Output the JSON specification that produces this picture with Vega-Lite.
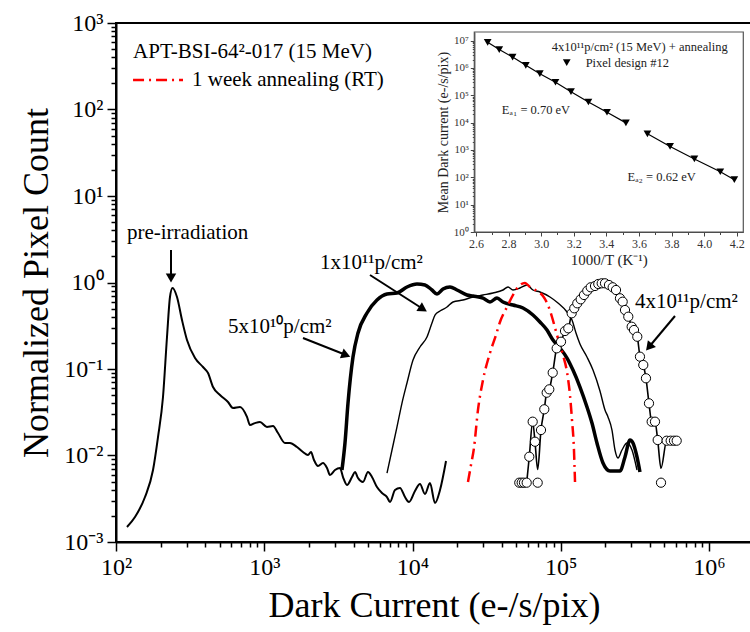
{
  "$schema": "https://vega.github.io/schema/vega-lite/v6.json",
  "autosize": {"type": "none"},
  "padding": {"left": 116, "top": 23, "right": 0, "bottom": 90},
  "width": 636,
  "height": 519,
  "background": "white",
  "config": {
    "font": "Liberation Serif",
    "view": {"stroke": "black", "strokeWidth": 2}
  },
  "datasets": {
    "pre": [
      {"x":118.6,"y":0.001491},{"x":134.3,"y":0.001945},{"x":156.9,"y":0.003312},{"x":177.7,"y":0.006797},{"x":192.0,"y":0.01635},{"x":207.5,"y":0.04746},{"x":220.8,"y":0.2343},{"x":231.3,"y":0.6797},{"x":240.5,"y":0.8637},{"x":257.9,"y":0.6797},{"x":278.7,"y":0.3684},{"x":301.2,"y":0.2163},{"x":341.2,"y":0.134},{"x":386.3,"y":0.1054},{"x":417.5,"y":0.0899},{"x":451.2,"y":0.0619},{"x":502.9,"y":0.05},{"x":569.5,"y":0.0415},{"x":615.5,"y":0.0354},{"x":686.2,"y":0.0364},{"x":764.9,"y":0.0279},{"x":801.3,"y":0.0225},{"x":866.2,"y":0.0237},{"x":936.1,"y":0.0244},{"x":1043,"y":0.0214},{"x":1146,"y":0.0219},{"x":1238,"y":0.0182},{"x":1380,"y":0.01394},{"x":1491,"y":0.01394},{"x":1663,"y":0.01253},{"x":1825,"y":0.01097},{"x":1972,"y":0.01013},{"x":2067,"y":0.01097},{"x":2165,"y":0.00887},{"x":2304,"y":0.00756},{"x":2490,"y":0.00819},{"x":2650,"y":0.00717},{"x":2776,"y":0.00595},{"x":3000,"y":0.0068},{"x":3243,"y":0.00717},{"x":3398,"y":0.00564},{"x":3614,"y":0.00456},{"x":3907,"y":0.00564},{"x":4094,"y":0.00644},{"x":4289,"y":0.00549},{"x":4634,"y":0.00494},{"x":5009,"y":0.00644},{"x":5329,"y":0.00564},{"x":5759,"y":0.00432},{"x":6227,"y":0.00368},{"x":6730,"y":0.00331},{"x":7048,"y":0.0029},{"x":7620,"y":0.00399},{"x":8234,"y":0.00421},{"x":8899,"y":0.00331},{"x":9469,"y":0.0029},{"x":10390,"y":0.00389},{"x":11230,"y":0.00468},{"x":12140,"y":0.00359},{"x":13120,"y":0.00481},{"x":14180,"y":0.00282},{"x":15330,"y":0.00399},{"x":16830,"y":0.00864}
    ],
    "f5e10": [
      {"x":3344,"y":0.0068},{"x":3504,"y":0.01394},{"x":3672,"y":0.0404},{"x":3968,"y":0.1376},{"x":4289,"y":0.2607},{"x":4932,"y":0.444},{"x":5759,"y":0.6275},{"x":6730,"y":0.7362},{"x":7860,"y":0.7559},{"x":9179,"y":0.887},{"x":10720,"y":0.9607},{"x":12140,"y":0.9354},{"x":13530,"y":0.819},{"x":14630,"y":0.7362},{"x":16060,"y":0.8412},{"x":17900,"y":0.887},{"x":19960,"y":0.819},{"x":23310,"y":0.7168},{"x":25590,"y":0.6979},{"x":29890,"y":0.6616},{"x":33320,"y":0.595},{"x":37150,"y":0.6616},{"x":40770,"y":0.595},{"x":47630,"y":0.5492},{"x":55620,"y":0.5071},{"x":64960,"y":0.4209},{"x":72410,"y":0.3494},{"x":80750,"y":0.2823},{"x":88630,"y":0.2163},{"x":98810,"y":0.1748},{"x":110200,"y":0.134},{"x":120900,"y":0.0973},{"x":134800,"y":0.0619},{"x":150300,"y":0.0364},{"x":162400,"y":0.0237},{"x":175500,"y":0.01394},{"x":192700,"y":0.00819},{"x":214900,"y":0.00662},{"x":250900,"y":0.00662},{"x":271200,"y":0.00961},{"x":293100,"y":0.0151},{"x":307100,"y":0.01394},{"x":326800,"y":0.00961},{"x":342200,"y":0.00644}
    ],
    "f1e11": [
      {"x":6730,"y":0.00627},{"x":7273,"y":0.01158},{"x":7860,"y":0.0214},{"x":8494,"y":0.0404},{"x":9179,"y":0.0689},{"x":10080,"y":0.127},{"x":11230,"y":0.1796},{"x":12520,"y":0.2343},{"x":13530,"y":0.3401},{"x":14180,"y":0.4209},{"x":15330,"y":0.4682},{"x":17090,"y":0.5208},{"x":18760,"y":0.595},{"x":21900,"y":0.6275},{"x":25590,"y":0.6797},{"x":29890,"y":0.7168},{"x":34910,"y":0.7559},{"x":40770,"y":0.819},{"x":44060,"y":0.887},{"x":47630,"y":0.819},{"x":53090,"y":0.8637},{"x":59180,"y":0.9354},{"x":64960,"y":0.819},{"x":72410,"y":0.7764},{"x":84580,"y":0.6797},{"x":95790,"y":0.5793},{"x":110200,"y":0.456},{"x":119100,"y":0.3684},{"x":126700,"y":0.2607},{"x":134800,"y":0.1945},{"x":150300,"y":0.1376},{"x":165000,"y":0.0973},{"x":183900,"y":0.0557},{"x":198800,"y":0.0336},{"x":208300,"y":0.0279},{"x":221600,"y":0.0197},{"x":232200,"y":0.01158},{"x":243300,"y":0.00935},{"x":258800,"y":0.01158},{"x":279800,"y":0.01394},{"x":302300,"y":0.01158},{"x":326800,"y":0.0068}
    ],
    "anneal": [
      {"x":23670,"y":0.00494},{"x":24800,"y":0.00776},{"x":25980,"y":0.01221},{"x":27650,"y":0.0336},{"x":29890,"y":0.0746},{"x":33320,"y":0.1531},{"x":36560,"y":0.2472},{"x":38920,"y":0.3494},{"x":43380,"y":0.5208},{"x":47630,"y":0.7168},{"x":51460,"y":0.887},{"x":57390,"y":0.9865},{"x":62000,"y":0.887},{"x":69130,"y":0.7974},{"x":75860,"y":0.6979},{"x":82000,"y":0.5492},{"x":87290,"y":0.3992},{"x":94330,"y":0.2472},{"x":103500,"y":0.1451},{"x":110200,"y":0.0923},{"x":115400,"y":0.05},{"x":119100,"y":0.0257},{"x":122800,"y":0.01158},{"x":124800,"y":0.00494}
    ],
    "f4e11": [
      {"x":52520,"y":0.00485},{"x":54510,"y":0.00485},{"x":56490,"y":0.00485},{"x":58910,"y":0.00485},{"x":61340,"y":0.00968},{"x":64660,"y":0.0246},{"x":67020,"y":0.01443},{"x":69890,"y":0.00485},{"x":73570,"y":0.0197},{"x":77440,"y":0.0342},{"x":80380,"y":0.0532},{"x":83690,"y":0.0582},{"x":88250,"y":0.0906},{"x":93880,"y":0.1734},{"x":100400,"y":0.2067},{"x":106800,"y":0.2749},{"x":112400,"y":0.2954},{"x":118500,"y":0.4404},{"x":123400,"y":0.5031},{"x":129300,"y":0.5745},{"x":136300,"y":0.6392},{"x":143500,"y":0.7168},{"x":151000,"y":0.8036},{"x":159200,"y":0.88},{"x":170200,"y":0.911},{"x":179100,"y":0.9607},{"x":188900,"y":0.9788},{"x":198800,"y":0.9788},{"x":211500,"y":0.9354},{"x":224000,"y":0.88},{"x":235900,"y":0.819},{"x":250900,"y":0.657},{"x":261600,"y":0.5998},{"x":271200,"y":0.4808},{"x":285500,"y":0.4024},{"x":300900,"y":0.3082},{"x":311900,"y":0.2823},{"x":328300,"y":0.2361},{"x":342200,"y":0.1388},{"x":360300,"y":0.1112},{"x":375700,"y":0.0781},{"x":393700,"y":0.0401},{"x":410500,"y":0.0246},{"x":432200,"y":0.0246},{"x":450700,"y":0.0151},{"x":474500,"y":0.00485},{"x":518200,"y":0.01483},{"x":551400,"y":0.01483},{"x":580400,"y":0.01483},{"x":605400,"y":0.01483}
    ],
    "f4e11fit": [
      {"x":58910,"y":0.00485},{"x":61340,"y":0.00968},{"x":64660,"y":0.0246},{"x":67020,"y":0.01443},{"x":69890,"y":0.0069},{"x":73570,"y":0.0197},{"x":77440,"y":0.0342},{"x":80380,"y":0.0532},{"x":83690,"y":0.0582},{"x":88250,"y":0.0906},{"x":93880,"y":0.1734},{"x":100400,"y":0.2067},{"x":106800,"y":0.2749},{"x":112400,"y":0.2954},{"x":118500,"y":0.4404},{"x":123400,"y":0.5031},{"x":129300,"y":0.5745},{"x":136300,"y":0.6392},{"x":143500,"y":0.7168},{"x":151000,"y":0.8036},{"x":159200,"y":0.88},{"x":170200,"y":0.911},{"x":179100,"y":0.9607},{"x":188900,"y":0.9788},{"x":198800,"y":0.9788},{"x":211500,"y":0.9354},{"x":224000,"y":0.88},{"x":235900,"y":0.819},{"x":250900,"y":0.657},{"x":261600,"y":0.5998},{"x":271200,"y":0.4808},{"x":285500,"y":0.4024},{"x":300900,"y":0.3082},{"x":311900,"y":0.2823},{"x":328300,"y":0.2361},{"x":342200,"y":0.1388},{"x":360300,"y":0.1112},{"x":375700,"y":0.0781},{"x":393700,"y":0.0401},{"x":410500,"y":0.0246},{"x":432200,"y":0.0246},{"x":450700,"y":0.0151},{"x":474500,"y":0.00711},{"x":518200,"y":0.01483},{"x":551400,"y":0.01483},{"x":580400,"y":0.01483},{"x":605400,"y":0.01483}
    ],
    "arrows": [
      {"id":"pre","x":235,"y":2.375,"x2":235,"y2":1.221},
      {"id":"f5e10","x":1825,"y":0.2282,"x2":3560,"y2":0.1451},
      {"id":"f1e11","x":5168,"y":1.221,"x2":11770,"y2":0.4939},
      {"id":"f4e11","x":589500,"y":0.41,"x2":393700,"y2":0.1796}
    ],
    "heads": [
      {"id":"pre","x":235,"y":1.127},
      {"id":"f5e10","x":3560,"y":0.1451},
      {"id":"f1e11","x":11770,"y":0.4939},
      {"id":"f4e11","x":393700,"y":0.1796}
    ],
    "legendLine": [
      {"x":130.3,"x2":283.1,"y":219.3}
    ],
    "notes": [
      {"x":130.3,"y":462,"t":"APT-BSI-64²-017 (15 MeV)"},
      {"x":325.5,"y":219.3,"t":"1 week annealing (RT)"},
      {"x":118.6,"y":3.734,"t":"pre-irradiation"},
      {"x":569.5,"y":0.3058,"t":"5x10¹⁰p/cm²"},
      {"x":2377,"y":1.68,"t":"1x10¹¹p/cm²"},
      {"x":316700,"y":0.595,"t":"4x10¹¹p/cm²"}
    ],
    "insetFrame": [
      {"x":2.59,"x2":4.24,"y":1,"y2":20700000}
    ],
    "arrhenius": [
      {"x":2.672,"y":8700000,"g":1},{"x":2.743,"y":4700000,"g":1},{"x":2.825,"y":2500000,"g":1},{"x":2.906,"y":1250000,"g":1},{"x":2.992,"y":620000,"g":1},{"x":3.088,"y":300000,"g":1},{"x":3.183,"y":136000,"g":1},{"x":3.29,"y":57000,"g":1},{"x":3.404,"y":24000,"g":1},{"x":3.52,"y":9800,"g":1},
      {"x":3.652,"y":3900,"g":2},{"x":3.791,"y":1350,"g":2},{"x":3.94,"y":470,"g":2},{"x":4.099,"y":160,"g":2},{"x":4.185,"y":82,"g":2}
    ],
    "insetKey": [
      {"x":3.157,"y":1560000}
    ],
    "insetNotes": [
      {"x":3.065,"y":6030000,"t":"4x10¹¹p/cm² (15 MeV) + annealing"},
      {"x":3.273,"y":1560000,"t":"Pixel design #12"},
      {"x":2.759,"y":29700,"t":"Eₐ₁ = 0.70 eV"},
      {"x":3.53,"y":104,"t":"Eₐ₂ = 0.62 eV"}
    ]
  },
  "layer": [
    {
      "encoding": {
        "x": {
          "field": "x", "type": "quantitative",
          "scale": {"type": "log", "domain": [100, 1950000], "nice": false},
          "axis": {
            "title": "Dark Current (e-/s/pix)",
            "titleFontSize": 36, "titleFontWeight": "normal", "titleColor": "black", "titleFont": "Liberation Serif", "titlePadding": 9,
            "values": [100,200,300,400,500,600,700,800,900,1000,2000,3000,4000,5000,6000,7000,8000,9000,10000,20000,30000,40000,50000,60000,70000,80000,90000,100000,200000,300000,400000,500000,600000,700000,800000,900000,1000000],
            "labelExpr": "datum.value==100?'10²':datum.value==1000?'10³':datum.value==10000?'10⁴':datum.value==100000?'10⁵':datum.value==1000000?'10⁶':''",
            "labelFontSize": 24, "labelColor": "black", "labelFont": "Liberation Serif", "labelPadding": 4,
            "labelOverlap": false, "labelFlush": false,
            "tickColor": "black", "tickWidth": 1.5,
            "tickSize": {"condition": {"test": "datum.value==100||datum.value==1000||datum.value==10000||datum.value==100000||datum.value==1000000", "value": 9}, "value": 5},
            "domainColor": "black", "domainWidth": 2, "grid": false
          }
        },
        "y": {
          "field": "y", "type": "quantitative",
          "scale": {"type": "log", "domain": [0.001, 1000], "nice": false},
          "axis": {
            "title": "Normalized Pixel Count",
            "titleFontSize": 36, "titleFontWeight": "normal", "titleColor": "black", "titleFont": "Liberation Serif", "titlePadding": 8,
            "values": [0.001,0.002,0.003,0.004,0.005,0.006,0.007,0.008,0.009,0.01,0.02,0.03,0.04,0.05,0.06,0.07,0.08,0.09,0.1,0.2,0.3,0.4,0.5,0.6,0.7,0.8,0.9,1,2,3,4,5,6,7,8,9,10,20,30,40,50,60,70,80,90,100,200,300,400,500,600,700,800,900,1000],
            "labelExpr": "datum.value==0.001?'10⁻³':datum.value==0.01?'10⁻²':datum.value==0.1?'10⁻¹':datum.value==1?'10⁰':datum.value==10?'10¹':datum.value==100?'10²':datum.value==1000?'10³':''",
            "labelFontSize": 24, "labelColor": "black", "labelFont": "Liberation Serif", "labelPadding": 4,
            "labelOverlap": false, "labelFlush": false,
            "tickColor": "black", "tickWidth": 1.5,
            "tickSize": {"condition": {"test": "datum.value==0.001||datum.value==0.01||datum.value==0.1||datum.value==1||datum.value==10||datum.value==100||datum.value==1000", "value": 9}, "value": 5},
            "domainColor": "black", "domainWidth": 2, "grid": false
          }
        }
      },
      "layer": [
        {"data": {"name": "pre"}, "mark": {"type": "line", "color": "black", "strokeWidth": 2, "interpolate": "monotone"}},
        {"data": {"name": "f5e10"}, "mark": {"type": "line", "color": "black", "strokeWidth": 3.5, "interpolate": "monotone"}},
        {"data": {"name": "f1e11"}, "mark": {"type": "line", "color": "black", "strokeWidth": 1.4, "interpolate": "monotone"}},
        {"data": {"name": "anneal"}, "mark": {"type": "line", "color": "#ff0000", "strokeWidth": 2.5, "strokeDash": [11, 5, 2, 5], "interpolate": "monotone"}},
        {"data": {"name": "f4e11fit"}, "mark": {"type": "line", "color": "black", "strokeWidth": 1.6, "interpolate": "monotone"}},
        {"data": {"name": "f4e11"}, "mark": {"type": "point", "shape": "circle", "filled": true, "fill": "white", "stroke": "black", "strokeWidth": 1, "size": 85, "opacity": 1}},
        {"data": {"name": "arrows"}, "mark": {"type": "rule", "color": "black", "strokeWidth": 2},
          "encoding": {"x2": {"field": "x2"}, "y2": {"field": "y2"}}},
        {"data": {"name": "heads"}, "transform": [{"filter": "datum.id=='pre'"}],
          "mark": {"type": "point", "shape": "triangle-down", "filled": true, "color": "black", "size": 110, "opacity": 1}},
        {"data": {"name": "heads"}, "transform": [{"filter": "datum.id=='f5e10'"}],
          "mark": {"type": "point", "shape": "triangle-right", "angle": 21, "filled": true, "color": "black", "size": 110, "opacity": 1}},
        {"data": {"name": "heads"}, "transform": [{"filter": "datum.id=='f1e11'"}],
          "mark": {"type": "point", "shape": "triangle-right", "angle": 32, "filled": true, "color": "black", "size": 110, "opacity": 1}},
        {"data": {"name": "heads"}, "transform": [{"filter": "datum.id=='f4e11'"}],
          "mark": {"type": "point", "shape": "triangle-right", "angle": 130, "filled": true, "color": "black", "size": 110, "opacity": 1}},
        {"data": {"name": "legendLine"}, "mark": {"type": "rule", "color": "#ff0000", "strokeWidth": 2.5, "strokeDash": [11, 5, 2, 5]},
          "encoding": {"x2": {"field": "x2"}}},
        {"data": {"name": "notes"}, "mark": {"type": "text", "align": "left", "baseline": "middle", "fontSize": 21, "font": "Liberation Serif", "color": "black"},
          "encoding": {"text": {"field": "t"}}}
      ]
    },
    {
      "encoding": {
        "x": {
          "field": "x", "type": "quantitative",
          "scale": {"type": "linear", "domain": [2.59, 4.24], "range": [358.3, 627.3], "nice": false, "zero": false},
          "axis": {
            "orient": "bottom", "offset": -310,
            "title": "1000/T  (K⁻¹)", "titleFontSize": 15, "titleFontWeight": "normal", "titleColor": "#222", "titleFont": "Liberation Serif", "titlePadding": 3,
            "values": [2.6,2.7,2.8,2.9,3.0,3.1,3.2,3.3,3.4,3.5,3.6,3.7,3.8,3.9,4.0,4.1,4.2],
            "labelExpr": "round(datum.value*10)%2==0 ? format(datum.value,'.1f') : ''",
            "labelFontSize": 12, "labelColor": "#333", "labelFont": "Liberation Serif", "labelPadding": 2,
            "labelOverlap": false, "labelFlush": false,
            "tickColor": "#444", "tickWidth": 1,
            "tickSize": {"condition": {"test": "round(datum.value*10)%2==0", "value": 4}, "value": 2.5},
            "domainColor": "#444", "domainWidth": 1.2, "grid": false
          }
        },
        "y": {
          "field": "y", "type": "quantitative",
          "scale": {"type": "log", "domain": [1, 20700000], "range": [209, 9], "nice": false},
          "axis": {
            "orient": "left", "offset": -358.3,
            "title": "Mean Dark current (e-/s/pix)", "titleFontSize": 14, "titleFontWeight": "normal", "titleColor": "#222", "titleFont": "Liberation Serif", "titlePadding": 3,
            "values": [1,2,3,4,5,6,7,8,9,10,20,30,40,50,60,70,80,90,100,200,300,400,500,600,700,800,900,1000,2000,3000,4000,5000,6000,7000,8000,9000,10000,20000,30000,40000,50000,60000,70000,80000,90000,100000,200000,300000,400000,500000,600000,700000,800000,900000,1000000,2000000,3000000,4000000,5000000,6000000,7000000,8000000,9000000,10000000],
            "labelExpr": "datum.value==1?'10⁰':datum.value==10?'10¹':datum.value==100?'10²':datum.value==1000?'10³':datum.value==10000?'10⁴':datum.value==100000?'10⁵':datum.value==1000000?'10⁶':datum.value==10000000?'10⁷':''",
            "labelFontSize": 11, "labelColor": "#333", "labelFont": "Liberation Serif", "labelPadding": 2,
            "labelOverlap": false, "labelFlush": false,
            "tickColor": "#444", "tickWidth": 1,
            "tickSize": {"condition": {"test": "datum.value==1||datum.value==10||datum.value==100||datum.value==1000||datum.value==10000||datum.value==100000||datum.value==1000000||datum.value==10000000", "value": 4}, "value": 2},
            "domainColor": "#444", "domainWidth": 1.2, "grid": false
          }
        }
      },
      "layer": [
        {"data": {"name": "insetFrame"}, "mark": {"type": "rect", "filled": false, "stroke": "#555", "strokeWidth": 1.2},
          "encoding": {"x2": {"field": "x2"}, "y2": {"field": "y2"}}},
        {"data": {"name": "arrhenius"}, "mark": {"type": "line", "color": "black", "strokeWidth": 1.2},
          "encoding": {"detail": {"field": "g", "type": "nominal"}}},
        {"data": {"name": "arrhenius"}, "mark": {"type": "point", "shape": "triangle-down", "filled": true, "color": "black", "size": 60, "opacity": 1}},
        {"data": {"name": "insetKey"}, "mark": {"type": "point", "shape": "triangle-down", "filled": true, "color": "black", "size": 60, "opacity": 1}},
        {"data": {"name": "insetNotes"}, "mark": {"type": "text", "align": "left", "baseline": "middle", "fontSize": 12.5, "font": "Liberation Serif", "color": "#222"},
          "encoding": {"text": {"field": "t"}}}
      ]
    }
  ],
  "resolve": {"scale": {"x": "independent", "y": "independent"}, "axis": {"x": "independent", "y": "independent"}}
}
